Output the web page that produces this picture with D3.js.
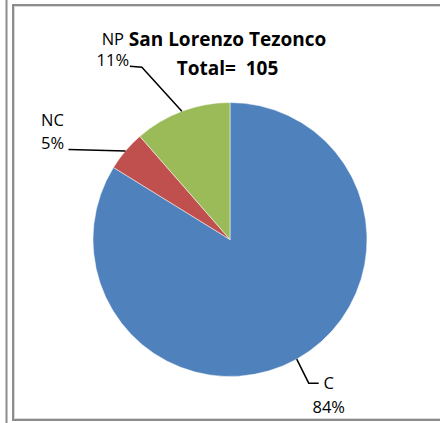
<!DOCTYPE html>
<html>
<head>
<meta charset="utf-8">
<script src="https://cdn.jsdelivr.net/npm/d3@7"></script>
<style>
  body { margin: 0; background: #fff; }
  text { font-family: "Open Sans", "Liberation Sans", sans-serif; }
</style>
</head>
<body>
<div id="chart"></div>
<script>
/* CONSTANTS AND GLOBALS */
const width = 440;
const height = 423;

/* DATA */
const categories = ["C", "NC", "NP"];
const counts = [88, 5, 12];
const percentLabels = ["84%", "5%", "11%"];
const colors = ["#4F81BD", "#C0504D", "#9BBB59"];
const titleLines = ["San Lorenzo Tezonco", "Total=  105"];

const data = categories.map((c, i) => ({ cat: c, count: counts[i], pct: percentLabels[i], color: colors[i] }));

// label layout: elbow + text offsets (from slice edge point)
const labelLayout = {
  C:  { elbow: [12, 24], end: [22, 24], tx: 32, ty1: 30, ty2: 54 },
  NC: { elbow: null, end: [-57, -1.5], tx: -73, ty1: -25, ty2: -2 },
  NP: { elbow: [-40, -44], end: [-52, -45], tx: -69, ty1: -66, ty2: -45 }
};

const cx = 230, cy = 239.5, radius = 137;

/* HTML ELEMENTS */
const svg = d3.select("#chart")
  .append("svg")
  .attr("width", width)
  .attr("height", height);

// frame
svg.append("line")
  .attr("x1", 6.5).attr("x2", 6.5).attr("y1", 0).attr("y2", height)
  .attr("stroke", "#8c8c8c").attr("stroke-width", 2);
svg.append("rect")
  .attr("x", 13).attr("y", 5).attr("width", width).attr("height", 415)
  .attr("fill", "none").attr("stroke", "#8c8c8c").attr("stroke-width", 2);
svg.append("rect")
  .attr("x", 14.5).attr("y", 6.5).attr("width", width).attr("height", 412)
  .attr("fill", "none").attr("stroke", "#d8d8d8").attr("stroke-width", 1);

/* PIE */
const pie = d3.pie().value(d => d.count).sort(null);
const arc = d3.arc().innerRadius(0).outerRadius(radius);
const arcs = pie(data);

const g = svg.append("g").attr("transform", `translate(${cx},${cy})`);

g.selectAll("path")
  .data(arcs)
  .join("path")
  .attr("d", arc)
  .attr("fill", d => d.data.color)
  .attr("stroke", "#fff")
  .attr("stroke-width", 0.5);

// leader lines + labels
arcs.forEach(d => {
  const mid = (d.startAngle + d.endAngle) / 2;
  const px = radius * Math.sin(mid);
  const py = -radius * Math.cos(mid);
  const L = labelLayout[d.data.cat];
  const pts = [[px, py]];
  if (L.elbow) pts.push([px + L.elbow[0], py + L.elbow[1]]);
  pts.push([px + L.end[0], py + L.end[1]]);

  g.append("path")
    .attr("d", d3.line()(pts))
    .attr("fill", "none")
    .attr("stroke", "#000")
    .attr("stroke-width", 1.5);

  g.append("text")
    .attr("x", px + L.tx).attr("y", py + L.ty1)
    .attr("text-anchor", "middle")
    .attr("font-size", 16.5)
    .attr("fill", "#000")
    .text(d.data.cat);
  g.append("text")
    .attr("x", px + L.tx).attr("y", py + L.ty2)
    .attr("text-anchor", "middle")
    .attr("font-size", 16.5)
    .attr("fill", "#000")
    .text(d.data.pct);
});

/* TITLE */
svg.selectAll("text.title")
  .data(titleLines)
  .join("text")
  .attr("class", "title")
  .attr("x", 227.5)
  .attr("y", (d, i) => 46 + i * 29)
  .attr("text-anchor", "middle")
  .attr("font-size", 19)
  .attr("font-weight", "bold")
  .attr("fill", "#000")
  .attr("xml:space", "preserve")
  .text(d => d);
</script>
</body>
</html>
